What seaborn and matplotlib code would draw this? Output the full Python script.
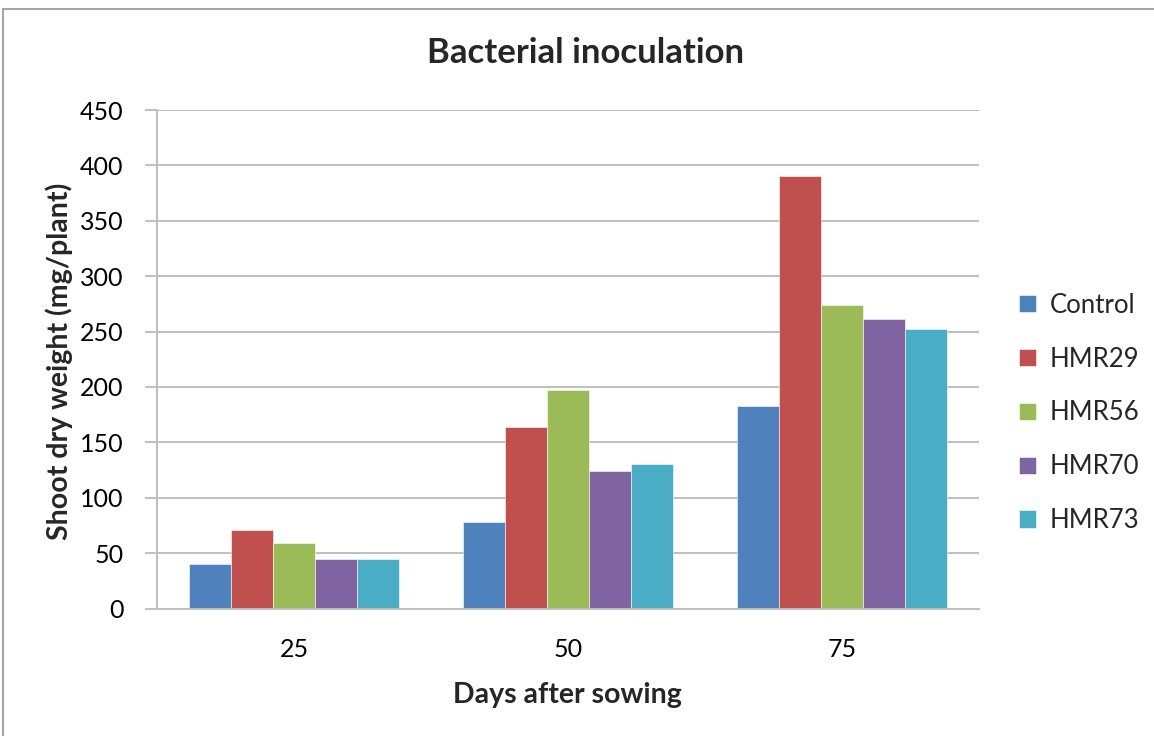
import matplotlib
matplotlib.use("Agg")
import matplotlib.pyplot as plt
import seaborn as sns
import pandas as pd
from matplotlib.patches import Rectangle

days = ["25", "50", "75"]
treatments = ["Control", "HMR29", "HMR56", "HMR70", "HMR73"]
control = [40, 78, 183]
hmr29 = [71, 164, 390]
hmr56 = [59, 197, 274]
hmr70 = [45, 124, 261]
hmr73 = [45, 130, 252]
colors = ["#4F81BD", "#C0504D", "#9BBB59", "#8064A2", "#4BACC6"]

series = [control, hmr29, hmr56, hmr70, hmr73]
rows = []
for t, vals in zip(treatments, series):
    for d, v in zip(days, vals):
        rows.append({"Days": d, "Treatment": t, "Weight": v})
df = pd.DataFrame(rows)

sns.set_theme(style="white")
plt.rcParams["font.family"] = ["Lato", "DejaVu Sans"]

W, H = 1154, 736
fig = plt.figure(figsize=(W/100, H/100), dpi=100)
ax = fig.add_axes([157/W, 1-608.5/H, (979-157)/W, (608.5-110)/H])

sns.barplot(data=df, x="Days", y="Weight", hue="Treatment", order=days,
            hue_order=treatments, palette=colors, width=0.766, gap=0,
            saturation=1, ax=ax, edgecolor="white", linewidth=0.4,
            errorbar=None)

ax.set_ylim(0, 450)
ax.set_yticks(range(0, 451, 50))
ax.set_xlim(-0.5, 2.5)
ax.yaxis.grid(True, color="#BFBFBF", linewidth=1.4)
ax.set_axisbelow(True)
for s in ["top", "right"]:
    ax.spines[s].set_visible(False)
for s in ["left", "bottom"]:
    ax.spines[s].set_color("#BFBFBF")
    ax.spines[s].set_linewidth(1.4)
ax.tick_params(axis="y", which="major", left=True, length=9, width=1.4,
               color="#BFBFBF", labelsize=18, pad=15, labelcolor="black")
ax.tick_params(axis="x", bottom=False, labelsize=18, pad=15, labelcolor="black")

ax.set_xlabel("")
ax.set_ylabel("")
fig.text(567/W, 1-695/H, "Days after sowing", ha="center", va="center",
         fontsize=20.5, fontweight="bold")
fig.text(59/W, 1-361/H, "Shoot dry weight (mg/plant)", ha="center", va="center",
         rotation=90, fontsize=20.5, fontweight="bold")
fig.text(586/W, 1-53/H, "Bacterial inoculation", ha="center", va="center",
         fontsize=25, fontweight="bold")

leg = ax.legend(loc="center left", bbox_to_anchor=(1009/W, 1-413/H),
                bbox_transform=fig.transFigure, frameon=False,
                fontsize=18.5, handlelength=0.65, handleheight=0.65,
                labelspacing=1.12, handletextpad=0.55, borderaxespad=0)

fig.patches.append(Rectangle((3/W, -0.05), 1.2, 1-9/H + 0.05,
                             transform=fig.transFigure, fill=False,
                             edgecolor="#A6A6A6", linewidth=1.5))

fig.savefig("out.png", dpi=100)
